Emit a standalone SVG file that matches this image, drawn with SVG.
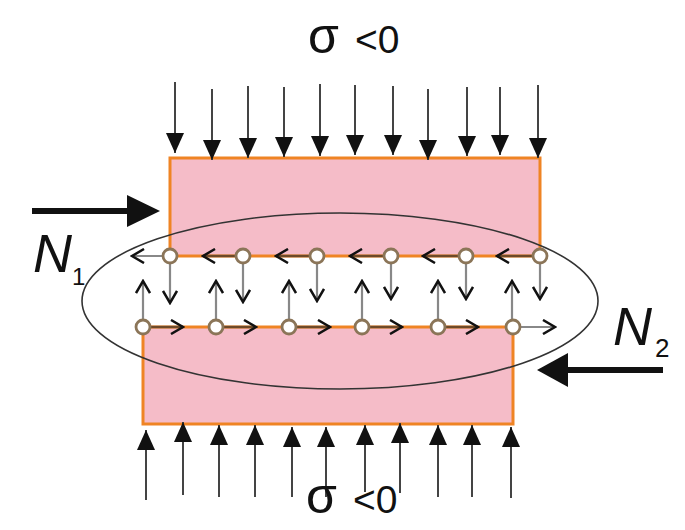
<svg xmlns="http://www.w3.org/2000/svg" width="685" height="530" viewBox="0 0 685 530">
<style>
.blk{fill:#f5bcc8;stroke:#ef8424;stroke-width:3}
.load{stroke:#444;stroke-width:2;fill:none}
.sh{stroke:#6e4a28;stroke-width:2.5;fill:none}
.gl{stroke:#888;stroke-width:2.2;fill:none}
.node{fill:#fff;stroke:#8b7558;stroke-width:2.8}
.lbl{font-family:"Liberation Sans",Arial,sans-serif;fill:#111}
.big{fill:#111;stroke:none}
</style>
<defs>
<marker id="tri" markerUnits="userSpaceOnUse" viewBox="0 0 20 18" refX="20" refY="9" markerWidth="20" markerHeight="18" orient="auto">
<path d="M0,0 L20,9 L0,18 z" fill="#111"/>
</marker>
<marker id="chev" markerUnits="userSpaceOnUse" viewBox="-1 -1 15 16" refX="12" refY="7" markerWidth="15" markerHeight="16" orient="auto">
<path d="M0,0 L12,7 L0,14" fill="none" stroke="#111" stroke-width="2.5"/>
</marker>
</defs>

<g id="block-top"><rect class="blk" x="170" y="158" width="370" height="98"/></g>
<g id="block-bottom"><rect class="blk" x="143" y="327" width="370" height="97"/></g>

<g id="connectors">
<g id="load-top" class="load" marker-end="url(#tri)">
<line x1="175" y1="82" x2="175" y2="153"/>
<line x1="212" y1="89" x2="212" y2="160"/>
<line x1="248" y1="86" x2="248" y2="158"/>
<line x1="284" y1="87" x2="284" y2="157"/>
<line x1="320" y1="84" x2="320" y2="156"/>
<line x1="355" y1="85" x2="355" y2="155"/>
<line x1="393" y1="86" x2="393" y2="155"/>
<line x1="428" y1="89" x2="428" y2="160"/>
<line x1="467" y1="87" x2="467" y2="156"/>
<line x1="500" y1="87" x2="500" y2="155"/>
<line x1="538" y1="85" x2="538" y2="158"/>
</g>
<g id="load-bottom" class="load" marker-end="url(#tri)">
<line x1="146" y1="500" x2="146" y2="430"/>
<line x1="183" y1="495" x2="183" y2="422"/>
<line x1="219" y1="497" x2="219" y2="425"/>
<line x1="255" y1="497" x2="255" y2="425"/>
<line x1="292" y1="497" x2="292" y2="427"/>
<line x1="326" y1="497" x2="326" y2="427"/>
<line x1="365" y1="492" x2="365" y2="425"/>
<line x1="400" y1="493" x2="400" y2="423"/>
<line x1="438" y1="497" x2="438" y2="425"/>
<line x1="472" y1="497" x2="472" y2="425"/>
<line x1="511" y1="498" x2="511" y2="427"/>
</g>
<g id="shear-top" marker-end="url(#chev)">
<line class="gl" x1="170" y1="256" x2="132" y2="256"/>
<line class="sh" x1="243" y1="256" x2="203" y2="256"/>
<line class="sh" x1="317" y1="256" x2="276" y2="256"/>
<line class="sh" x1="391" y1="256" x2="350" y2="256"/>
<line class="sh" x1="466" y1="256" x2="423" y2="256"/>
<line class="sh" x1="540" y1="256" x2="497" y2="256"/>
</g>
<g id="shear-bottom" marker-end="url(#chev)">
<line class="sh" x1="143" y1="327" x2="183" y2="327"/>
<line class="sh" x1="216" y1="327" x2="256" y2="327"/>
<line class="sh" x1="289" y1="327" x2="330" y2="327"/>
<line class="sh" x1="362" y1="327" x2="402" y2="327"/>
<line class="sh" x1="438" y1="327" x2="478" y2="327"/>
<line class="gl" x1="513" y1="327" x2="555" y2="327"/>
</g>
<g id="normal-down" class="gl" marker-end="url(#chev)">
<line x1="170" y1="256" x2="170" y2="303"/>
<line x1="243" y1="256" x2="243" y2="302"/>
<line x1="317" y1="256" x2="317" y2="301"/>
<line x1="391" y1="256" x2="391" y2="299"/>
<line x1="466" y1="256" x2="466" y2="299"/>
<line x1="540" y1="256" x2="540" y2="299"/>
</g>
<g id="normal-up" class="gl" marker-end="url(#chev)">
<line x1="143" y1="327" x2="143" y2="281"/>
<line x1="216" y1="327" x2="216" y2="281"/>
<line x1="289" y1="327" x2="289" y2="281"/>
<line x1="362" y1="327" x2="362" y2="281"/>
<line x1="438" y1="327" x2="438" y2="281"/>
<line x1="512" y1="327" x2="512" y2="281"/>
</g>
<g id="force-N1">
<line x1="32" y1="211" x2="132" y2="211" stroke="#111" stroke-width="6"/>
<polygon class="big" points="127,195 160,211 127,227"/>
</g>
<g id="force-N2">
<line x1="663" y1="370" x2="563" y2="370" stroke="#111" stroke-width="6"/>
<polygon class="big" points="568,353 537,370 568,387"/>
</g>
</g>

<g id="interface-nodes">
<circle class="node" cx="170" cy="256" r="7"/>
<circle class="node" cx="243" cy="256" r="7"/>
<circle class="node" cx="317" cy="256" r="7"/>
<circle class="node" cx="391" cy="256" r="7"/>
<circle class="node" cx="466" cy="256" r="7"/>
<circle class="node" cx="540" cy="256" r="7"/>
<circle class="node" cx="143" cy="327" r="7"/>
<circle class="node" cx="216" cy="327" r="7"/>
<circle class="node" cx="289" cy="327" r="7"/>
<circle class="node" cx="362" cy="327" r="7"/>
<circle class="node" cx="438" cy="327" r="7"/>
<circle class="node" cx="513" cy="327" r="7"/>
</g>

<g id="zone"><ellipse cx="340" cy="301" rx="258" ry="88" fill="none" stroke="#333" stroke-width="1.6"/></g>

<g id="labels">
<text class="lbl" x="308" y="53"><tspan font-size="50">σ</tspan><tspan x="355" font-size="39">&lt;0</tspan></text>
<text class="lbl" x="306" y="513"><tspan font-size="50">σ</tspan><tspan x="353" font-size="39">&lt;0</tspan></text>
<text class="lbl" x="33" y="272" font-size="54" font-style="italic">N</text>
<text class="lbl" x="72" y="285" font-size="24">1</text>
<text class="lbl" x="613" y="345" font-size="54" font-style="italic">N</text>
<text class="lbl" x="655" y="357" font-size="26">2</text>
</g>
</svg>
